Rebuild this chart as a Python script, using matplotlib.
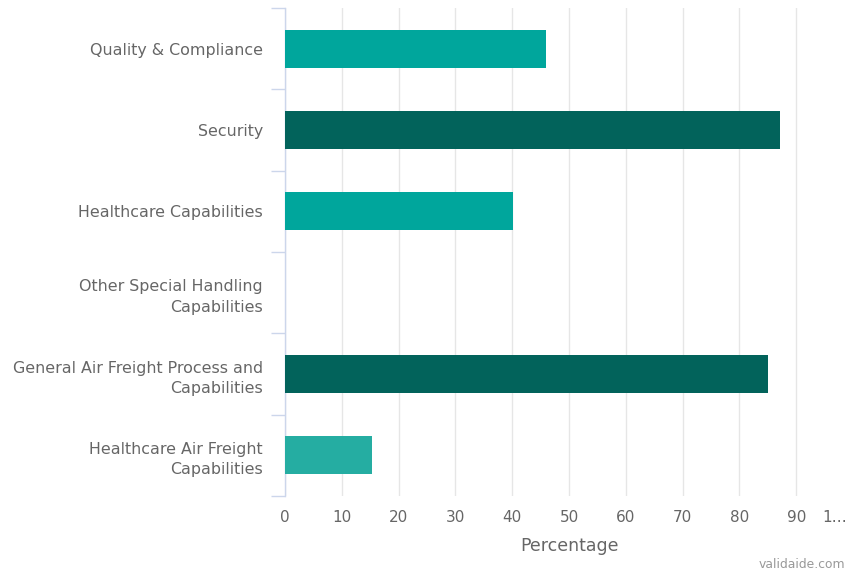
import matplotlib
matplotlib.use("Agg")
import matplotlib.pyplot as plt
from matplotlib.ticker import FixedLocator
import matplotlib.transforms as mtransforms

categories = [
    "Quality & Compliance",
    "Security",
    "Healthcare Capabilities",
    "Other Special Handling\nCapabilities",
    "General Air Freight Process and\nCapabilities",
    "Healthcare Air Freight\nCapabilities",
]
values = [46.0, 87.2, 40.2, 0.0, 85.1, 15.4]
colors = ["#00a69c", "#02635b", "#00a69c", "#00a69c", "#02635b", "#25ada2"]
xticks = [0, 10, 20, 30, 40, 50, 60, 70, 80, 90, 100]
xticklabels = ["0", "10", "20", "30", "40", "50", "60", "70", "80", "90", "1\u2026"]

text_col = "#666666"
axis_col = "#ccd6eb"
grid_col = "#e6e6e6"

fig = plt.figure(figsize=(8.47, 5.74), dpi=100)
ax = fig.add_axes([285 / 847, 1 - 496 / 574, 568 / 847, 488 / 574])

ypos = list(range(len(categories)))
ax.barh(ypos, values, height=0.47, color=colors, edgecolor="none", zorder=3)

ax.set_ylim(len(categories) - 0.5, -0.5)
ax.set_xlim(0, 100)

ax.set_yticks(ypos)
ax.set_yticklabels(categories, fontsize=11.4, color=text_col, linespacing=1.45)
ax.yaxis.set_minor_locator(FixedLocator([i - 0.5 for i in range(len(categories) + 1)]))
ax.tick_params(axis="y", which="major", length=0, pad=16)
ax.tick_params(axis="y", which="minor", length=10, color=axis_col, width=1)
for lbl in ax.get_yticklabels():
    lbl.set_horizontalalignment("right")
    lbl.set_multialignment("right")

ax.set_xticks(xticks)
ax.set_xticklabels(xticklabels, fontsize=11, color=text_col)
ax.tick_params(axis="x", length=0, pad=10)
last = ax.get_xticklabels()[-1]
last.set_horizontalalignment("right")
last.set_transform(last.get_transform() + mtransforms.ScaledTranslation(-6 / 100, 0, fig.dpi_scale_trans))

ax.grid(axis="x", color=grid_col, linewidth=1, zorder=0)
ax.set_axisbelow(True)

for s in ["top", "right", "bottom"]:
    ax.spines[s].set_visible(False)
ax.spines["left"].set_color(axis_col)
ax.spines["left"].set_linewidth(1)

ax.set_xlabel("Percentage", fontsize=12.5, color=text_col, labelpad=9)
fig.text(845 / 847, 1 - 564 / 574, "validaide.com", fontsize=8.9, color="#999999", ha="right", va="center")

fig.savefig("out.png", dpi=100)
